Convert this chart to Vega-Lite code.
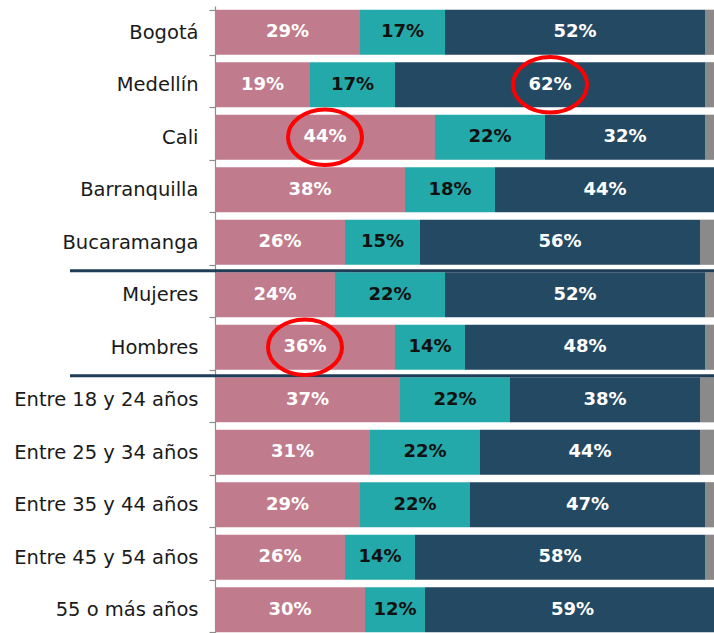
{
  "$schema": "https://vega.github.io/schema/vega-lite/v6.json",
  "autosize": {"type": "none"},
  "width": 500,
  "height": 630,
  "padding": {"left": 215, "top": 6, "right": 0, "bottom": 0},
  "background": "#ffffff",
  "config": {"view": {"stroke": null}},
  "datasets": {
    "barras": [
      {"cat": "Bogotá", "serie": "Opción 1", "orden": 1, "valor": 0.29, "circulo": 0},
      {"cat": "Bogotá", "serie": "Opción 2", "orden": 2, "valor": 0.17, "circulo": 0},
      {"cat": "Bogotá", "serie": "Opción 3", "orden": 3, "valor": 0.52, "circulo": 0},
      {"cat": "Bogotá", "serie": "NS/NR", "orden": 4, "valor": 0.02, "circulo": 0},
      {"cat": "Medellín", "serie": "Opción 1", "orden": 1, "valor": 0.19, "circulo": 0},
      {"cat": "Medellín", "serie": "Opción 2", "orden": 2, "valor": 0.17, "circulo": 0},
      {"cat": "Medellín", "serie": "Opción 3", "orden": 3, "valor": 0.62, "circulo": 1},
      {"cat": "Medellín", "serie": "NS/NR", "orden": 4, "valor": 0.02, "circulo": 0},
      {"cat": "Cali", "serie": "Opción 1", "orden": 1, "valor": 0.44, "circulo": 1},
      {"cat": "Cali", "serie": "Opción 2", "orden": 2, "valor": 0.22, "circulo": 0},
      {"cat": "Cali", "serie": "Opción 3", "orden": 3, "valor": 0.32, "circulo": 0},
      {"cat": "Cali", "serie": "NS/NR", "orden": 4, "valor": 0.02, "circulo": 0},
      {"cat": "Barranquilla", "serie": "Opción 1", "orden": 1, "valor": 0.38, "circulo": 0},
      {"cat": "Barranquilla", "serie": "Opción 2", "orden": 2, "valor": 0.18, "circulo": 0},
      {"cat": "Barranquilla", "serie": "Opción 3", "orden": 3, "valor": 0.44, "circulo": 0},
      {"cat": "Barranquilla", "serie": "NS/NR", "orden": 4, "valor": 0.0, "circulo": 0},
      {"cat": "Bucaramanga", "serie": "Opción 1", "orden": 1, "valor": 0.26, "circulo": 0},
      {"cat": "Bucaramanga", "serie": "Opción 2", "orden": 2, "valor": 0.15, "circulo": 0},
      {"cat": "Bucaramanga", "serie": "Opción 3", "orden": 3, "valor": 0.56, "circulo": 0},
      {"cat": "Bucaramanga", "serie": "NS/NR", "orden": 4, "valor": 0.03, "circulo": 0},
      {"cat": "Mujeres", "serie": "Opción 1", "orden": 1, "valor": 0.24, "circulo": 0},
      {"cat": "Mujeres", "serie": "Opción 2", "orden": 2, "valor": 0.22, "circulo": 0},
      {"cat": "Mujeres", "serie": "Opción 3", "orden": 3, "valor": 0.52, "circulo": 0},
      {"cat": "Mujeres", "serie": "NS/NR", "orden": 4, "valor": 0.02, "circulo": 0},
      {"cat": "Hombres", "serie": "Opción 1", "orden": 1, "valor": 0.36, "circulo": 1},
      {"cat": "Hombres", "serie": "Opción 2", "orden": 2, "valor": 0.14, "circulo": 0},
      {"cat": "Hombres", "serie": "Opción 3", "orden": 3, "valor": 0.48, "circulo": 0},
      {"cat": "Hombres", "serie": "NS/NR", "orden": 4, "valor": 0.02, "circulo": 0},
      {"cat": "Entre 18 y 24 años", "serie": "Opción 1", "orden": 1, "valor": 0.37, "circulo": 0},
      {"cat": "Entre 18 y 24 años", "serie": "Opción 2", "orden": 2, "valor": 0.22, "circulo": 0},
      {"cat": "Entre 18 y 24 años", "serie": "Opción 3", "orden": 3, "valor": 0.38, "circulo": 0},
      {"cat": "Entre 18 y 24 años", "serie": "NS/NR", "orden": 4, "valor": 0.03, "circulo": 0},
      {"cat": "Entre 25 y 34 años", "serie": "Opción 1", "orden": 1, "valor": 0.31, "circulo": 0},
      {"cat": "Entre 25 y 34 años", "serie": "Opción 2", "orden": 2, "valor": 0.22, "circulo": 0},
      {"cat": "Entre 25 y 34 años", "serie": "Opción 3", "orden": 3, "valor": 0.44, "circulo": 0},
      {"cat": "Entre 25 y 34 años", "serie": "NS/NR", "orden": 4, "valor": 0.03, "circulo": 0},
      {"cat": "Entre 35 y 44 años", "serie": "Opción 1", "orden": 1, "valor": 0.29, "circulo": 0},
      {"cat": "Entre 35 y 44 años", "serie": "Opción 2", "orden": 2, "valor": 0.22, "circulo": 0},
      {"cat": "Entre 35 y 44 años", "serie": "Opción 3", "orden": 3, "valor": 0.47, "circulo": 0},
      {"cat": "Entre 35 y 44 años", "serie": "NS/NR", "orden": 4, "valor": 0.02, "circulo": 0},
      {"cat": "Entre 45 y 54 años", "serie": "Opción 1", "orden": 1, "valor": 0.26, "circulo": 0},
      {"cat": "Entre 45 y 54 años", "serie": "Opción 2", "orden": 2, "valor": 0.14, "circulo": 0},
      {"cat": "Entre 45 y 54 años", "serie": "Opción 3", "orden": 3, "valor": 0.58, "circulo": 0},
      {"cat": "Entre 45 y 54 años", "serie": "NS/NR", "orden": 4, "valor": 0.02, "circulo": 0},
      {"cat": "55 o más años", "serie": "Opción 1", "orden": 1, "valor": 0.30, "circulo": 0},
      {"cat": "55 o más años", "serie": "Opción 2", "orden": 2, "valor": 0.12, "circulo": 0},
      {"cat": "55 o más años", "serie": "Opción 3", "orden": 3, "valor": 0.59, "circulo": 0},
      {"cat": "55 o más años", "serie": "NS/NR", "orden": 4, "valor": 0.0, "circulo": 0}
    ],
    "separadores": [
      {"cat": "Mujeres"},
      {"cat": "Entre 18 y 24 años"}
    ]
  },
  "layer": [
    {
      "data": {"name": "barras"},
      "mark": {"type": "bar"},
      "encoding": {
        "y": {
          "field": "cat", "type": "nominal", "sort": null, "title": null,
          "scale": {"paddingInner": 0.14, "paddingOuter": 0.07},
          "axis": {
            "labelFont": "DejaVu Sans", "labelFontSize": 19.5, "labelColor": "#1a1a1a",
            "labelPadding": 11, "tickSize": 6, "tickBand": "extent",
            "tickColor": "#8c8c8c", "domainColor": "#8c8c8c", "domainWidth": 1.2, "tickWidth": 1.2,
            "labelLimit": 300
          }
        },
        "x": {"field": "valor", "type": "quantitative", "stack": "zero", "axis": null,
              "scale": {"domain": [0, 1], "nice": false}},
        "order": {"field": "orden", "type": "quantitative"},
        "color": {
          "field": "serie", "type": "nominal", "legend": null,
          "scale": {"domain": ["Opción 1", "Opción 2", "Opción 3", "NS/NR"],
                    "range": ["#c07b8c", "#24a9aa", "#244963", "#8a8a8a"]}
        }
      }
    },
    {
      "data": {"name": "separadores"},
      "mark": {"type": "rule", "color": "#1f3d57", "strokeWidth": 3, "yOffset": -1.5},
      "encoding": {
        "y": {"field": "cat", "type": "nominal", "sort": null, "bandPosition": 0},
        "x": {"datum": -0.29},
        "x2": {"datum": 1}
      }
    },
    {
      "data": {"name": "barras"},
      "transform": [{"filter": "datum.serie !== 'NS/NR'"}],
      "mark": {"type": "text", "font": "DejaVu Sans", "fontWeight": "bold", "fontSize": 18, "baseline": "middle", "align": "center"},
      "encoding": {
        "y": {"field": "cat", "type": "nominal", "sort": null},
        "x": {"field": "valor", "type": "quantitative", "stack": "zero", "bandPosition": 0.5},
        "order": {"field": "orden", "type": "quantitative"},
        "detail": {"field": "serie", "type": "nominal"},
        "text": {"field": "valor", "type": "quantitative", "format": ".0%"},
        "color": {"condition": {"test": "datum.serie === 'Opción 2'", "value": "#111111"}, "value": "#ffffff"}
      }
    },
    {
      "data": {"name": "barras"},
      "mark": {"type": "point", "filled": false, "opacity": 1, "strokeWidth": 4, "color": "#ff0000",
               "shape": "M-1,0A1,0.75 0 1,0 1,0A1,0.75 0 1,0 -1,0", "size": 5476},
      "encoding": {
        "y": {"field": "cat", "type": "nominal", "sort": null},
        "x": {"field": "valor", "type": "quantitative", "stack": "zero", "bandPosition": 0.5},
        "order": {"field": "orden", "type": "quantitative"},
        "detail": {"field": "serie", "type": "nominal"},
        "strokeOpacity": {"condition": {"test": "datum.circulo === 1", "value": 1}, "value": 0}
      }
    }
  ]
}
